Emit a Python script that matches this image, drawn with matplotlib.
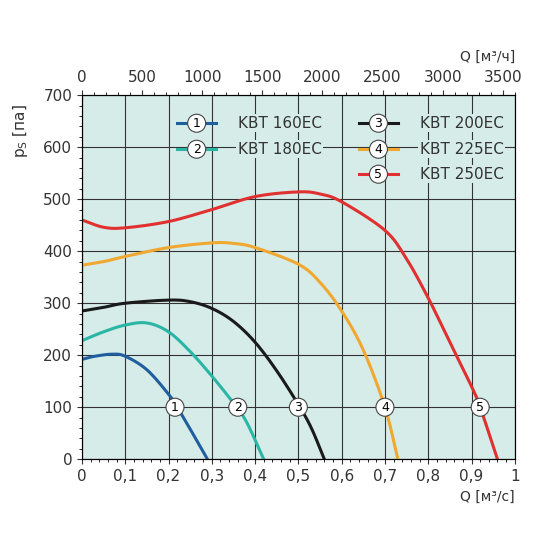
import matplotlib.pyplot as plt
import numpy as np
from matplotlib.ticker import MultipleLocator

# curves: flow Q [m3/s], static pressure [Pa]
names = ["KBT 160EC", "KBT 180EC", "KBT 200EC", "KBT 225EC", "KBT 250EC"]
colors = ["#1f5fa0", "#2ab5a5", "#1a1a1a", "#f0a830", "#e03030"]
q1 = [0, 0.03, 0.07, 0.1, 0.15, 0.2, 0.22, 0.25, 0.29]
p1 = [192, 198, 202, 198, 172, 125, 100, 58, 0]
q2 = [0, 0.05, 0.1, 0.15, 0.2, 0.25, 0.3, 0.35, 0.38, 0.42]
p2 = [228, 245, 258, 262, 245, 207, 160, 108, 72, 0]
q3 = [0, 0.05, 0.1, 0.2, 0.25, 0.3, 0.35, 0.4, 0.45, 0.5, 0.53, 0.56]
p3 = [285, 292, 300, 306, 303, 290, 265, 225, 170, 105, 60, 0]
q4 = [0, 0.05, 0.1, 0.2, 0.3, 0.35, 0.4, 0.5, 0.55, 0.6, 0.65, 0.7, 0.73]
p4 = [373, 380, 390, 407, 416, 415, 407, 375, 340, 285, 210, 100, 0]
q5 = [0, 0.05, 0.1, 0.2, 0.3, 0.4, 0.5, 0.55, 0.6, 0.7, 0.75, 0.8, 0.85, 0.9, 0.92, 0.96]
p5 = [460, 446, 445, 457, 480, 505, 514, 510, 495, 440, 385, 310, 225, 140, 100, 0]
label_q = [0.215, 0.36, 0.5, 0.70, 0.92]
series = [(q1, p1), (q2, p2), (q3, p3), (q4, p4), (q5, p5)]


def smooth(x, y, n=12):
    # Catmull-Rom through the read points, just for rendering
    x = np.asarray(x, float)
    y = np.asarray(y, float)
    px = np.concatenate([[2 * x[0] - x[1]], x, [2 * x[-1] - x[-2]]])
    py = np.concatenate([[2 * y[0] - y[1]], y, [2 * y[-1] - y[-2]]])
    ox, oy = [], []
    t = np.linspace(0, 1, n, endpoint=False)
    for i in range(1, len(px) - 2):
        for arr, out in ((px, ox), (py, oy)):
            p0, p1_, p2_, p3_ = arr[i - 1:i + 3]
            out.extend(0.5 * (2 * p1_ + (-p0 + p2_) * t + (2 * p0 - 5 * p1_ + 4 * p2_ - p3_) * t**2
                              + (-p0 + 3 * p1_ - 3 * p2_ + p3_) * t**3))
    ox.append(x[-1])
    oy.append(y[-1])
    return ox, oy


fig = plt.figure(figsize=(5.5, 5.5), dpi=100)
ax = fig.add_axes([0.149, 0.165, 0.787, 0.662])
ax.set_facecolor("#d6ece9")
ax.set_xlim(0, 1)
ax.set_ylim(0, 700)
ax.xaxis.set_major_locator(MultipleLocator(0.1))
ax.xaxis.set_minor_locator(MultipleLocator(0.02))
ax.yaxis.set_major_locator(MultipleLocator(100))
ax.yaxis.set_minor_locator(MultipleLocator(20))
ax.grid(True, which="major", color="#333333", lw=0.8)
ax.set_xticks(np.arange(0, 1.01, 0.1))
ax.set_xticklabels(["0"] + [f"{v:.1f}".replace(".", ",") for v in np.arange(0.1, 0.95, 0.1)] + ["1"])
ax.tick_params(labelsize=11, colors="#333333", direction="out")
for s in ax.spines.values():
    s.set_color("#333333")

for i, ((q, p), c) in enumerate(zip(series, colors)):
    sx, sy = smooth(q, p)
    ax.plot(sx, sy, color=c, lw=2.2, solid_joinstyle="round", zorder=3)
    ax.text(label_q[i], 100, str(i + 1), ha="center", va="center", fontsize=9, zorder=5,
            bbox=dict(boxstyle="circle,pad=0.2", fc="white", ec="#444444", lw=0.8))

# legend
leg_pos = [(0.22, 646), (0.22, 596), (0.64, 646), (0.64, 596), (0.64, 548)]
for i, ((x, y), c) in enumerate(zip(leg_pos, colors)):
    ax.plot([x, x + 0.09], [y, y], color=c, lw=2.2, zorder=4)
    ax.text(x + 0.045, y, str(i + 1), ha="center", va="center", fontsize=9, zorder=5,
            bbox=dict(boxstyle="circle,pad=0.2", fc="white", ec="#444444", lw=0.8))
    ax.text(x + 0.14, y, names[i], va="center", fontsize=11, color="#333333", zorder=5,
            bbox=dict(fc="#d6ece9", ec="none", pad=1))

ax.set_ylabel("p$_\\mathregular{S}$ [па]", fontsize=11, color="#333333")
ax.yaxis.set_label_coords(-0.12, 0.9)
ax.text(1.0, -0.085, "Q [м³/с]", transform=ax.transAxes, ha="right", va="top", fontsize=10, color="#333333")

top = ax.twiny()
top.set_xlim(0, 3600)
top.xaxis.set_major_locator(MultipleLocator(500))
top.xaxis.set_minor_locator(MultipleLocator(100))
top.tick_params(labelsize=11, colors="#333333", direction="out")
ax.text(1.0, 1.085, "Q [м³/ч]", transform=ax.transAxes, ha="right", va="bottom", fontsize=10, color="#333333")

fig.savefig("out.png", dpi=100)
